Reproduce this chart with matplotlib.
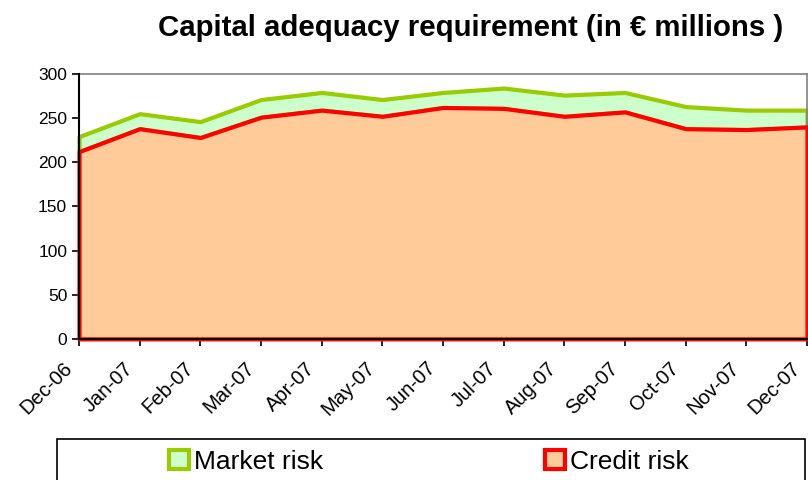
import numpy as np
import matplotlib.pyplot as plt
import matplotlib.transforms as mtransforms
from matplotlib.patches import Patch, Rectangle

# monthly values (EUR millions)
months = ['Dec-06', 'Jan-07', 'Feb-07', 'Mar-07', 'Apr-07', 'May-07', 'Jun-07',
          'Jul-07', 'Aug-07', 'Sep-07', 'Oct-07', 'Nov-07', 'Dec-07']
credit_risk = [212, 238, 228, 251, 259, 252, 262, 261, 252, 257, 238, 237, 240]
market_risk = [17, 17, 18, 20, 20, 19, 17, 23, 24, 22, 25, 22, 19]

plt.rcParams['font.family'] = ['Liberation Sans', 'DejaVu Sans']

x = np.arange(len(months))
credit = np.array(credit_risk)
total = credit + np.array(market_risk)

fig = plt.figure(figsize=(8.08, 4.8), dpi=100)
ax = fig.add_axes([0.0978, 0.294, 0.9010, 0.552])

# market risk band on top, then credit risk area
ax.fill_between(x, credit, total, facecolor='#CCFFCC', edgecolor='#99CC00',
                linewidth=3, clip_on=False, zorder=2)
ax.fill_between(x, 0, credit, facecolor='#FFCC99', edgecolor='#FF0000',
                linewidth=3, clip_on=False, zorder=3)

ax.set_xlim(0, len(months) - 1)
ax.set_ylim(0, 300)
ax.set_yticks(range(0, 301, 50))
ax.set_xticks(x)
ax.set_xticklabels(months, rotation=45, ha='right', va='center',
                   rotation_mode='anchor', fontsize=14.5)
ax.tick_params(axis='both', direction='out', length=5, width=1.2)
ax.tick_params(axis='y', labelsize=12.5)
ax.tick_params(axis='x', pad=14)
shift = mtransforms.ScaledTranslation(-10 / 100, 0, fig.dpi_scale_trans)
for lbl in ax.get_xticklabels():
    lbl.set_transform(lbl.get_transform() + shift)

for s in ['top', 'right']:
    ax.spines[s].set_color('#808080')
    ax.spines[s].set_linewidth(1.2)
for s in ['left', 'bottom']:
    ax.spines[s].set_color('black')
    ax.spines[s].set_linewidth(1.5)
    ax.spines[s].set_zorder(4)

fig.text(0.583, 0.942, 'Capital adequacy requirement (in \u20ac millions )',
         ha='center', va='center', fontsize=21.2, fontweight='bold')

# legend frame and entries
fig.patches.append(Rectangle((57 / 808, -0.05), 748 / 808, 0.135,
                             transform=fig.transFigure, fill=False,
                             edgecolor='black', linewidth=1.2))
handles = [Patch(facecolor='#CCFFCC', edgecolor='#99CC00', linewidth=3),
           Patch(facecolor='#FFCC99', edgecolor='#FF0000', linewidth=3)]
fig.legend(handles, ['Market risk', 'Credit risk'], loc='center',
           bbox_to_anchor=(0.531, 0.038), ncol=2, frameon=False, fontsize=19,
           handlelength=0.75, handleheight=0.75, handletextpad=0.2,
           columnspacing=8.4, borderpad=0)

fig.savefig('out.png', dpi=100)
